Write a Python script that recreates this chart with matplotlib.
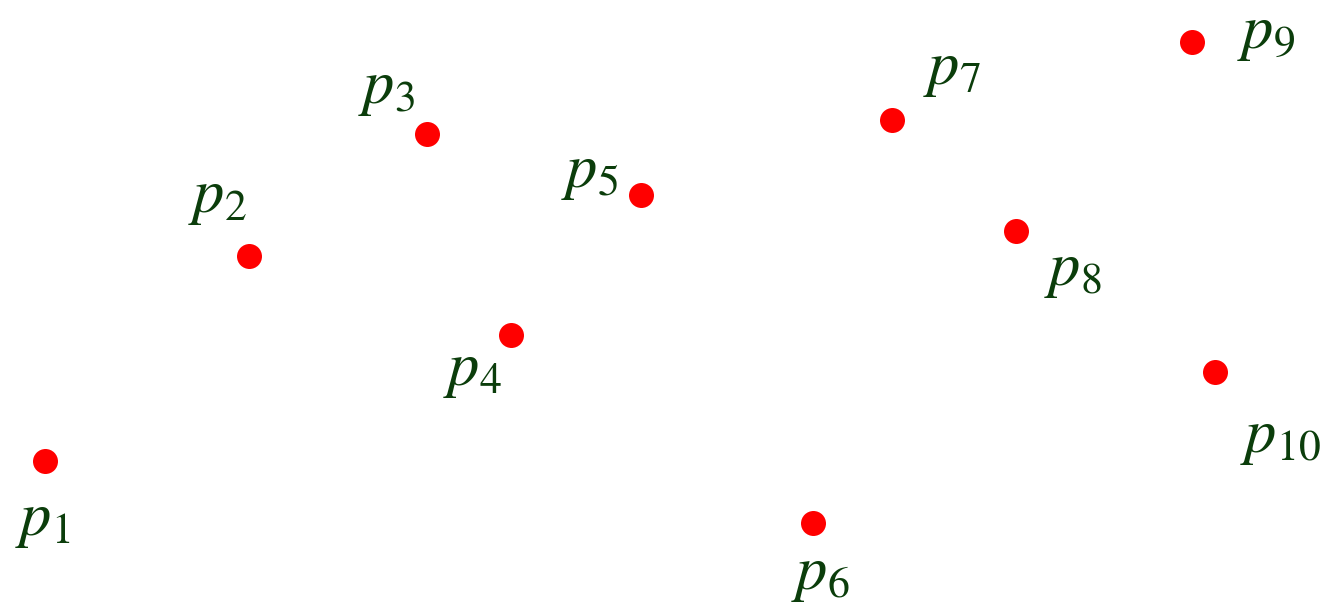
import matplotlib
matplotlib.use("Agg")
import matplotlib.pyplot as plt

plt.rcParams['mathtext.fontset'] = 'stix'

labels = [r"$p_{1}$", r"$p_{2}$", r"$p_{3}$", r"$p_{4}$", r"$p_{5}$",
          r"$p_{6}$", r"$p_{7}$", r"$p_{8}$", r"$p_{9}$", r"$p_{10}$"]
x_vals = [45, 249, 427, 511, 641, 813, 892, 1016, 1192, 1215]
y_vals = [461, 256, 134, 335, 195, 523, 120, 231, 42, 372]
label_x = [43, 217, 386, 472, 590, 820, 952, 1073, 1266, 1280]
label_y = [520, 197, 88, 370, 172, 574, 69, 270, 33, 437]

fig = plt.figure(figsize=(13.26, 6.06), dpi=100)
ax = fig.add_axes([0, 0, 1, 1])
ax.set_xlim(0, 1326)
ax.set_ylim(606, 0)
ax.axis('off')

ax.scatter(x_vals, y_vals, s=(25 * 0.72) ** 2, color='#ff0000', zorder=3, linewidths=0)
for lab, lx, ly in zip(labels, label_x, label_y):
    ax.text(lx, ly, lab, fontsize=45, color='#0b3d0b', ha='center', va='center')

fig.savefig("out.png", dpi=100)
